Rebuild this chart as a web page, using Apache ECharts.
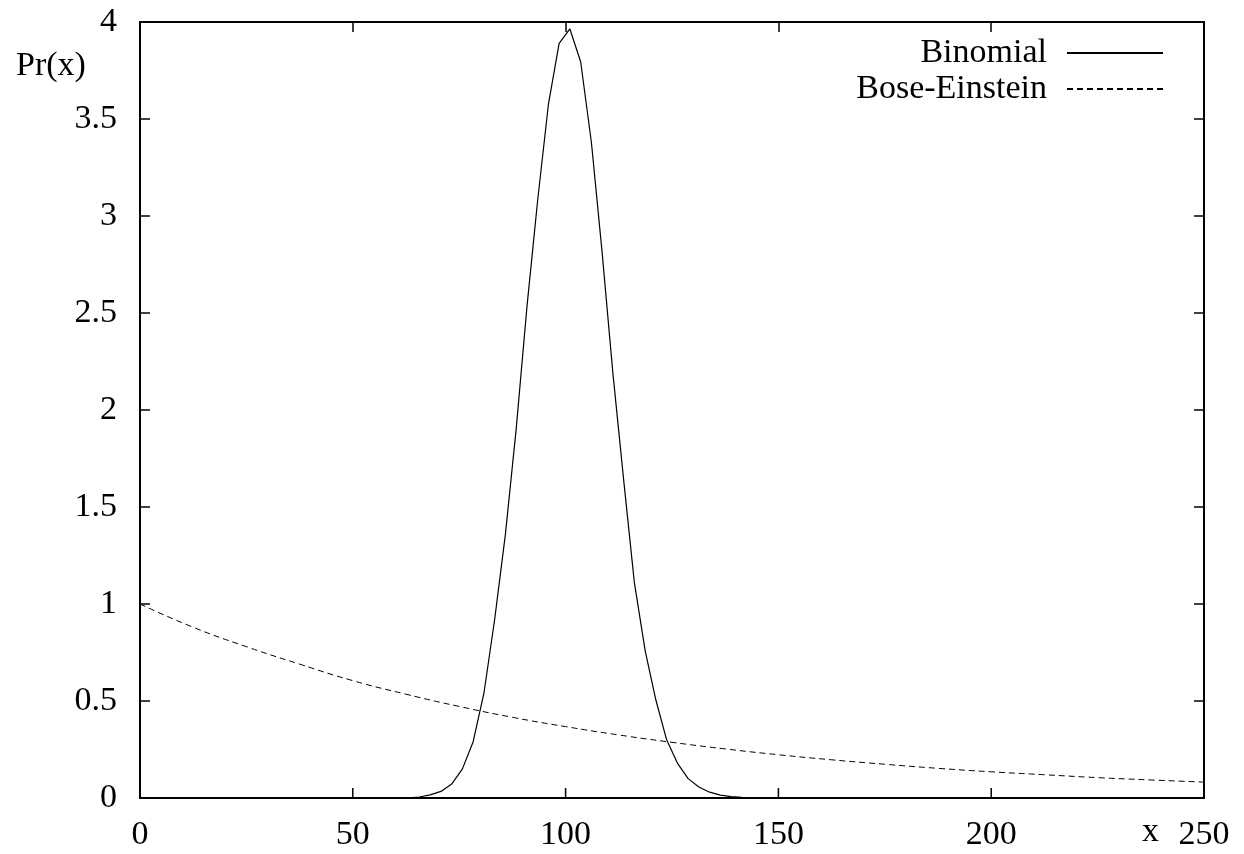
<!DOCTYPE html>
<html>
<head>
<meta charset="utf-8">
<script src="https://cdn.jsdelivr.net/npm/echarts@6/dist/echarts.min.js"></script>
<style>
html,body{margin:0;padding:0;background:#fff;}
#chart{width:1244px;height:854px;}
</style>
</head>
<body>
<div id="chart"></div>
<script>
// x axis ticks 0..250, y axis ticks 0..4
var xTicks = [0, 50, 100, 150, 200, 250];
var yTicks = [0, 0.5, 1, 1.5, 2, 2.5, 3, 3.5, 4];

var binomialX = [0, 60.61, 63.13, 65.66, 68.18, 70.71, 73.23, 75.76, 78.28, 80.81, 83.33, 85.86, 88.38, 90.91, 93.43, 95.96, 98.48, 101.01, 103.54, 106.06, 108.59, 111.11, 113.64, 116.16, 118.69, 121.21, 123.74, 126.26, 128.79, 131.31, 133.84, 136.36, 138.89, 141.41, 143.94, 250];
var binomialY = [0, 0.000, 0.001, 0.005, 0.016, 0.034, 0.072, 0.150, 0.290, 0.540, 0.920, 1.360, 1.900, 2.530, 3.080, 3.575, 3.890, 3.964, 3.795, 3.380, 2.810, 2.190, 1.640, 1.110, 0.760, 0.505, 0.300, 0.180, 0.100, 0.057, 0.030, 0.015, 0.007, 0.003, 0.000, 0];

// Bose-Einstein curve
var boseX = [0, 12.5, 25, 37.5, 50, 62.5, 75, 87.5, 100, 112.5, 125, 137.5, 150, 162.5, 175, 187.5, 200, 212.5, 225, 237.5, 250];
var boseY = [1.0, 0.88, 0.78, 0.69, 0.605, 0.535, 0.472, 0.416, 0.368, 0.325, 0.287, 0.253, 0.223, 0.197, 0.174, 0.153, 0.135, 0.120, 0.105, 0.093, 0.082];

function pairs(xs, ys){ return xs.map(function(x,i){ return [x, ys[i]]; }); }

var FONT = '"Liberation Serif", "DejaVu Serif", serif';
var chart = echarts.init(document.getElementById('chart'), null, {renderer:'canvas'});

var TICK_LEN = 10;

function axisLineStyle(){ return {show:true, onZero:false, lineStyle:{color:'#000', width:2}}; }
function tickStyle(){ return {show:true, inside:true, length:TICK_LEN, lineStyle:{color:'#000', width:1.5}}; }

function xAx(pos, labels){
  return {type:'value', min:xTicks[0], max:xTicks[xTicks.length-1], interval:50, position:pos,
    axisLine:axisLineStyle(), axisTick: labels ? {show:false} : tickStyle(), splitLine:{show:false},
    axisLabel: labels ? {show:true, fontFamily:FONT, fontSize:34, color:'#000', margin:20} : {show:false}};
}
function yAx(pos, labels){
  return {type:'value', min:yTicks[0], max:yTicks[yTicks.length-1], interval:0.5, position:pos,
    axisLine:axisLineStyle(), axisTick: labels ? {show:false} : tickStyle(), splitLine:{show:false},
    axisLabel: labels ? {show:true, fontFamily:FONT, fontSize:34, color:'#000', margin:23} : {show:false}};
}

chart.setOption({
  backgroundColor:'#fff',
  animation:false,
  title:[
    {text:'Pr(x)', left:11, top:44, textStyle:{fontFamily:FONT, fontSize:34, fontWeight:'normal', color:'#000'}},
    {text:'x', left:1137, top:810, textStyle:{fontFamily:FONT, fontSize:34, fontWeight:'normal', color:'#000'}}
  ],
  legend:{
    orient:'vertical', align:'right', right:75, top:31,
    itemWidth:96, itemHeight:14, itemGap:2,
    itemStyle:{opacity:0},
    textStyle:{fontFamily:FONT, fontSize:34, color:'#000', lineHeight:34, padding:[0,15,0,0]},
    data:['Binomial','Bose-Einstein']
  },
  grid:{left:140, right:40, top:22, bottom:56, show:false},
  xAxis:[ xAx('bottom', true), xAx('top', false) ],
  yAxis:[ yAx('left', true), yAx('right', false) ],
  series:[
    {name:'Binomial', type:'line', data:pairs(binomialX, binomialY), showSymbol:false, symbol:'none',
     xAxisIndex:0, yAxisIndex:0,
     lineStyle:{color:'#000', width:1.2}, itemStyle:{color:'#000'}, z:3},
    {name:'Bose-Einstein', type:'line', data:pairs(boseX, boseY), showSymbol:false, symbol:'none', smooth:true,
     xAxisIndex:0, yAxisIndex:0,
     lineStyle:{color:'#000', width:1, type:[6,4]}, itemStyle:{color:'#000'}, z:3}
  ]
});

// inward ticks on bottom and left edges, positioned through the chart's own scales
var tickEls = [];
xTicks.forEach(function(v){
  var p = chart.convertToPixel({xAxisIndex:0, yAxisIndex:0}, [v, yTicks[0]]);
  tickEls.push({type:'line', z:100, silent:true,
    shape:{x1:p[0], y1:p[1], x2:p[0], y2:p[1]-TICK_LEN},
    style:{stroke:'#000', lineWidth:1.5}});
});
yTicks.forEach(function(v){
  var p = chart.convertToPixel({xAxisIndex:0, yAxisIndex:0}, [xTicks[0], v]);
  tickEls.push({type:'line', z:100, silent:true,
    shape:{x1:p[0], y1:p[1], x2:p[0]+TICK_LEN, y2:p[1]},
    style:{stroke:'#000', lineWidth:1.5}});
});
chart.setOption({graphic:{elements:tickEls}});
</script>
</body>
</html>
